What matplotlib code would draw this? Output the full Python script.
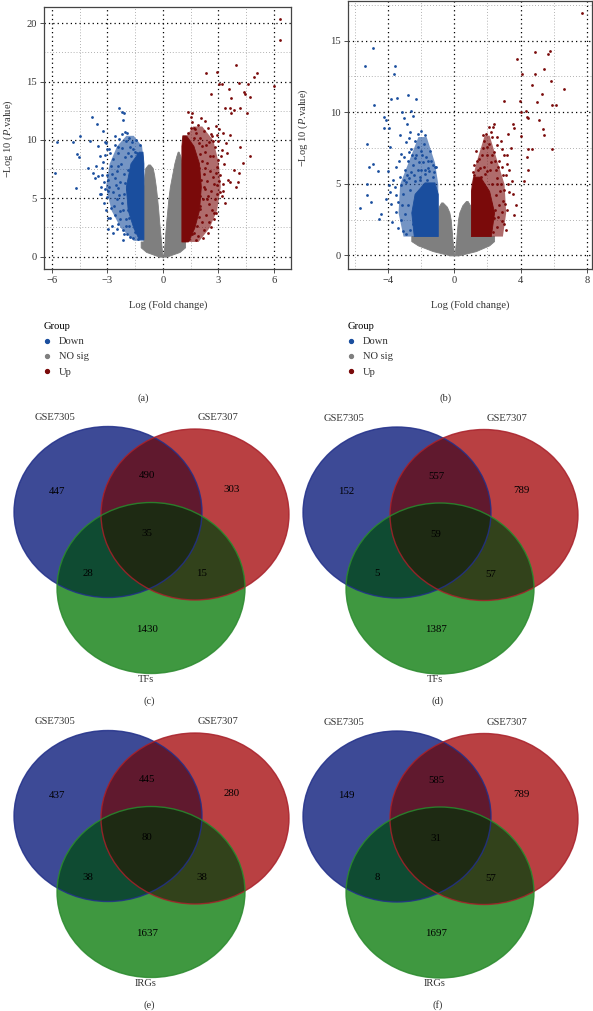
import numpy as np
import matplotlib
matplotlib.use('Agg')
import matplotlib.pyplot as plt
from matplotlib.patches import Ellipse, Polygon
from matplotlib.lines import Line2D

plt.rcParams['font.family'] = ['Liberation Serif', 'DejaVu Serif']
plt.rcParams['mathtext.fontset'] = 'custom'
plt.rcParams['mathtext.rm'] = 'Liberation Serif'
plt.rcParams['mathtext.it'] = 'Liberation Serif:italic'

# ---------------- volcano (a) ----------------
a_gray_left_y = [0, 0.4, 0.8, 1.3, 1.3, 2, 3, 4, 5, 6, 7, 7.6, 7.9]
a_gray_left_out = [-0.2, -0.9, -1.2, -1.2, -1.05, -1.05, -1.05, -1.05, -1.05, -1.05, -1.0, -0.95, -0.8]
a_gray_left_in = [0, -0.04, -0.07, -0.1, -0.1, -0.14, -0.2, -0.25, -0.31, -0.38, -0.47, -0.55, -0.7]
a_gray_right_y = [0, 0.4, 0.8, 1.3, 1.3, 2, 3, 4, 5, 6, 7, 8, 8.6, 9.0]
a_gray_right_out = [0.2, 0.9, 1.2, 1.2, 1.0, 1.0, 1.0, 1.0, 1.0, 1.0, 1.0, 1.0, 0.95, 0.85]
a_gray_right_in = [0, 0.04, 0.07, 0.1, 0.1, 0.13, 0.18, 0.24, 0.3, 0.38, 0.5, 0.62, 0.72, 0.8]
a_down_halo_y = [1.4, 2.5, 4, 6, 8, 9.5, 10.4]
a_down_halo_l = [-1.6, -2.3, -2.8, -3.1, -2.9, -2.5, -2.0]
a_down_halo_r = [-1.05, -1.05, -1.05, -1.05, -1.05, -1.15, -1.6]
a_down_core_y = [1.5, 2.5, 4, 6, 8, 9.0]
a_down_core_l = [-1.3, -1.6, -1.9, -2.0, -1.75, -1.3]
a_down_core_r = [-1.05, -1.05, -1.05, -1.05, -1.05, -1.1]
a_up_halo_y = [1.3, 2.5, 4, 6, 8, 10, 11.2]
a_up_halo_l = [1.0, 1.0, 1.0, 1.0, 1.0, 1.1, 1.6]
a_up_halo_r = [1.9, 2.5, 2.9, 3.1, 3.0, 2.7, 2.1]
a_up_core_y = [1.3, 2.5, 4, 6, 8, 9.5, 10.4]
a_up_core_l = [1.0, 1.0, 1.0, 1.0, 1.0, 1.0, 1.05]
a_up_core_r = [1.35, 1.7, 1.95, 2.05, 1.95, 1.65, 1.25]

a_down = np.array([
    (-5.73, 9.8), (-5.82, 7.15), (-4.86, 9.8), (-4.68, 5.9), (-4.5, 10.3), (-4.65, 8.8),
    (-4.54, 8.5), (-4.07, 7.6), (-3.93, 9.9), (-3.84, 12.0), (-3.75, 7.15), (-3.66, 6.7),
    (-3.57, 11.4), (-3.48, 9.5), (-3.39, 8.6), (-3.33, 5.4), (-3.21, 10.8), (-3.06, 9.7),
    (-2.99, 5.6), (-2.94, 2.4), (-2.85, 3.3), (-2.36, 12.7), (-2.22, 12.4), (-2.09, 12.3),
    (-2.18, 11.7), (-2.04, 10.7), (-2.67, 2.0), (-2.16, 1.4),
    (-3.3, 7.6), (-3.2, 6.4), (-3.1, 8.7), (-3.0, 5.1), (-3.0, 7.0), (-2.9, 9.2), (-2.9, 6.0),
    (-2.8, 4.2), (-2.8, 7.8), (-2.7, 5.5), (-2.7, 8.4), (-2.6, 3.6), (-2.6, 6.7), (-2.6, 9.6),
    (-2.5, 4.9), (-2.5, 7.3), (-2.45, 2.8), (-2.4, 5.9), (-2.4, 8.9), (-2.35, 10.1), (-2.3, 3.9),
    (-2.3, 6.4), (-2.25, 7.9), (-2.2, 4.6), (-2.2, 9.3), (-2.15, 2.3), (-2.1, 5.4), (-2.1, 7.1),
    (-2.05, 8.5), (-2.0, 3.2), (-2.0, 9.9), (-1.95, 1.9), (-1.9, 8.9), (-1.85, 2.6), (-1.8, 9.4),
    (-1.75, 1.7), (-1.7, 8.6), (-1.6, 9.2), (-1.5, 9.0), (-1.4, 8.9), (-1.35, 1.5), (-2.6, 10.3),
    (-2.2, 10.5), (-1.85, 10.2), (-3.4, 5.4), (-3.5, 6.9), (-3.6, 7.8), (-3.2, 4.6), (-2.95, 3.3),
    (-2.75, 2.6), (-3.1, 9.8),
    (-1.25, 9.6), (-1.45, 10.0), (-1.65, 9.8), (-1.9, 7.4), (-1.95, 5.8), (-1.9, 4.0),
    (-1.85, 3.3), (-2.05, 6.3), (-2.15, 4.0), (-2.35, 5.3), (-2.45, 7.8), (-2.55, 6.1),
    (-2.65, 4.3), (-2.75, 7.1), (-2.85, 8.9), (-2.95, 6.6), (-3.05, 4.0), (-3.15, 5.8),
    (-3.25, 8.1), (-2.3, 3.2), (-2.5, 2.4), (-2.0, 2.6), (-1.6, 1.6), (-1.5, 2.1), (-2.1, 1.9),
    (-1.95, 10.6), (-2.45, 9.4), (-3.0, 9.2), (-3.3, 7.0), (-3.35, 6.0),
])
a_up = np.array([
    (6.31, 20.4), (6.31, 18.6), (3.96, 16.4), (5.08, 15.7), (4.9, 15.4), (4.58, 14.8),
    (2.34, 15.7), (2.92, 15.8), (3.01, 14.8), (3.19, 14.8), (4.09, 14.9), (6.02, 14.6),
    (3.55, 14.4), (4.36, 14.1), (4.45, 13.9), (4.72, 13.7), (2.59, 13.9), (3.68, 13.6),
    (3.37, 12.7), (3.6, 12.7), (3.82, 12.6), (4.14, 12.7), (4.54, 12.3), (3.68, 12.3),
    (1.35, 12.4), (1.57, 12.3), (3.01, 10.9), (3.24, 10.6), (3.64, 10.4), (4.18, 9.4),
    (4.72, 8.6), (3.46, 8.9), (3.82, 7.4), (4.09, 7.2), (3.64, 6.4), (4.04, 6.4), (4.32, 8.0),
    (3.96, 6.0), (3.24, 5.6), (3.1, 5.5), (2.74, 3.7), (2.88, 3.7), (2.38, 4.9), (2.02, 4.3),
    (1.87, 2.6), (1.66, 2.0),
    (1.7, 11.0), (1.8, 10.6), (1.9, 11.3), (2.0, 10.2), (2.1, 9.5), (2.1, 8.2), (2.2, 10.8),
    (2.2, 7.1), (2.3, 9.0), (2.3, 5.8), (2.35, 3.6), (2.4, 8.0), (2.4, 6.5), (2.5, 9.8),
    (2.5, 4.5), (2.55, 7.3), (2.6, 10.5), (2.6, 5.6), (2.7, 8.6), (2.7, 6.8), (2.75, 3.2),
    (2.8, 9.4), (2.8, 4.9), (2.9, 7.7), (2.9, 6.1), (3.0, 9.9), (3.0, 8.3), (3.1, 7.0),
    (3.2, 9.1), (3.2, 5.2), (3.3, 7.9), (2.1, 3.0), (2.2, 2.3), (1.9, 1.8), (2.0, 4.1),
    (2.25, 11.6), (2.45, 11.0), (1.5, 12.0), (1.6, 11.5), (2.65, 10.3), (2.95, 10.4),
    (3.4, 9.7), (3.5, 6.6), (3.35, 4.6), (1.4, 1.5), (1.6, 1.9), (2.6, 2.5),
    (1.35, 10.6), (1.5, 11.0), (1.7, 10.2), (1.95, 9.7), (2.0, 8.8), (1.95, 7.6), (2.05, 6.6),
    (2.0, 5.2), (1.95, 3.4), (2.15, 4.9), (2.2, 6.0), (2.3, 7.6), (2.35, 9.6), (2.45, 5.2),
    (2.5, 3.0), (2.55, 8.6), (2.65, 4.0), (2.7, 9.9), (2.75, 6.2), (2.85, 7.2), (2.95, 5.4),
    (3.05, 6.5), (3.15, 8.6), (3.25, 6.2), (2.15, 1.6), (1.8, 1.4), (2.45, 2.0), (1.75, 10.9),
    (2.05, 11.9), (2.85, 11.2),
])

# ---------------- volcano (b) ----------------
b_gray_left_y = [0, 0.3, 0.7, 1.0, 1.35, 1.35, 2, 2.5, 3, 3.4, 3.7]
b_gray_left_out = [-0.25, -1.3, -2.2, -2.6, -2.6, -1.0, -1.0, -1.0, -1.0, -0.95, -0.8]
b_gray_left_in = [0, -0.04, -0.07, -0.11, -0.13, -0.13, -0.18, -0.22, -0.3, -0.45, -0.7]
b_gray_right_y = [0, 0.3, 0.7, 1.0, 1.35, 1.35, 2, 2.5, 3, 3.5, 3.8]
b_gray_right_out = [0.25, 1.3, 2.1, 2.4, 2.4, 1.0, 1.0, 1.0, 1.0, 0.95, 0.8]
b_gray_right_in = [0, 0.04, 0.07, 0.11, 0.13, 0.13, 0.18, 0.22, 0.3, 0.48, 0.7]
b_down_halo_y = [1.35, 3, 5, 6.5, 8.3]
b_down_halo_l = [-3.1, -3.4, -3.3, -2.8, -2.2]
b_down_halo_r = [-1.0, -1.0, -1.0, -1.2, -1.7]
b_down_core_y = [1.35, 3, 4.3, 5.1]
b_down_core_l = [-2.45, -2.6, -2.4, -1.8]
b_down_core_r = [-1.0, -1.0, -1.0, -1.2]
b_up_halo_y = [1.35, 3, 5, 6.5, 8.4]
b_up_halo_l = [1.0, 1.0, 1.0, 1.3, 1.8]
b_up_halo_r = [2.9, 3.1, 3.0, 2.6, 2.1]
b_up_core_y = [1.35, 3, 4.5, 5.5]
b_up_core_l = [1.0, 1.0, 1.0, 1.15]
b_up_core_r = [2.2, 2.4, 2.1, 1.55]

b_down = np.array([
    (-4.93, 14.5), (-5.37, 13.2), (-3.58, 13.2), (-3.66, 12.7), (-2.82, 11.2), (-3.46, 11.0),
    (-3.82, 10.9), (-2.31, 10.9), (-4.83, 10.5), (-2.62, 10.1), (-3.18, 10.0), (-4.27, 9.7),
    (-4.12, 9.45), (-3.02, 9.6), (-2.52, 9.75), (-4.23, 8.9), (-3.92, 8.9), (-2.88, 9.2),
    (-2.01, 8.7), (-1.77, 8.4), (-3.26, 8.4), (-5.27, 7.8), (-3.86, 7.55), (-2.72, 8.2),
    (-5.13, 6.2), (-4.93, 6.4), (-4.63, 5.9), (-5.27, 5.0), (-3.96, 4.95), (-5.27, 4.2),
    (-5.03, 3.7), (-5.67, 3.3), (-4.43, 2.9), (-4.53, 2.55), (-3.78, 2.3), (-4.1, 3.95),
    (-4.02, 5.9), (-1.1, 6.15),
    (-3.6, 4.8), (-3.5, 6.2), (-3.4, 3.7), (-3.3, 5.5), (-3.2, 7.1), (-3.1, 4.3), (-3.0, 6.0),
    (-3.0, 2.9), (-2.9, 7.9), (-2.9, 5.1), (-2.8, 3.5), (-2.8, 6.6), (-2.7, 4.6), (-2.6, 7.4),
    (-2.6, 5.8), (-2.5, 6.3), (-2.4, 8.0), (-2.4, 5.2), (-2.3, 7.0), (-2.2, 6.0), (-2.2, 8.5),
    (-2.1, 5.5), (-2.0, 7.3), (-1.9, 6.5), (-1.8, 5.7), (-1.7, 6.9), (-1.6, 6.1), (-1.5, 5.9),
    (-1.4, 6.6), (-1.3, 5.5), (-2.0, 6.0), (-2.5, 2.2), (-3.2, 2.5), (-3.5, 3.0), (-3.8, 3.6),
    (-3.9, 4.4), (-2.7, 1.8), (-2.9, 1.5), (-3.4, 1.9), (-1.2, 5.8), (-1.15, 6.2),
    (-1.3, 6.3), (-1.6, 6.6), (-1.75, 6.0), (-1.95, 7.0), (-2.15, 6.5), (-2.35, 6.8),
    (-2.55, 7.0), (-2.75, 7.2), (-2.85, 5.6), (-3.05, 5.3), (-3.15, 3.5), (-3.25, 4.9),
    (-3.35, 6.6), (-2.65, 8.6), (-2.2, 7.6), (-1.85, 7.8), (-3.05, 6.9), (-3.55, 4.2),
    (-3.7, 5.3), (-3.1, 1.7), (-2.75, 5.4), (-2.45, 5.6), (-2.05, 5.3), (-1.65, 5.3), (-1.45, 7.3),
])
b_up = np.array([
    (7.69, 16.9), (5.79, 14.3), (5.63, 14.1), (4.87, 14.2), (3.78, 13.7), (5.39, 13.0),
    (4.06, 12.65), (4.87, 12.65), (5.84, 12.2), (4.67, 11.9), (6.6, 11.6), (5.27, 11.3),
    (3.02, 10.8), (3.98, 10.8), (4.99, 10.7), (5.88, 10.5), (6.14, 10.5), (4.35, 10.1),
    (4.02, 10.0), (4.39, 9.7), (4.43, 9.6), (5.13, 9.45), (3.52, 9.2), (5.33, 8.85),
    (3.62, 8.9), (5.43, 8.4), (4.02, 8.35), (3.22, 8.5), (4.47, 7.4), (4.67, 7.4), (5.88, 7.4),
    (4.39, 6.9), (4.47, 6.0), (4.18, 5.2), (3.52, 4.3), (3.72, 3.55), (3.62, 2.8), (2.92, 3.8),
    (2.41, 9.2), (2.33, 9.0),
    (1.1, 5.8), (1.2, 6.3), (1.3, 7.3), (1.4, 6.0), (1.5, 6.7), (1.6, 5.5), (1.7, 7.5),
    (1.8, 6.2), (1.9, 8.5), (2.0, 7.0), (2.0, 5.9), (2.1, 7.8), (2.2, 6.5), (2.3, 8.3),
    (2.3, 5.0), (2.4, 7.2), (2.5, 6.0), (2.5, 4.2), (2.6, 7.7), (2.6, 5.4), (2.7, 3.5),
    (2.7, 6.6), (2.8, 5.0), (2.8, 8.0), (2.9, 6.2), (3.0, 4.6), (3.0, 7.0), (3.1, 5.6),
    (3.2, 3.2), (3.3, 6.0), (3.3, 4.4), (2.2, 3.6), (2.4, 2.6), (2.6, 2.0), (2.9, 2.4),
    (3.1, 1.8), (2.35, 1.6), (1.7, 8.4), (2.1, 9.0), (3.4, 7.5), (3.5, 5.2),
    (1.2, 5.6), (1.35, 6.6), (1.55, 6.1), (1.65, 7.0), (1.85, 5.7), (1.95, 7.6), (2.15, 6.0),
    (2.25, 7.0), (2.45, 6.6), (2.55, 5.0), (2.65, 6.2), (2.75, 4.5), (2.85, 7.4), (2.95, 5.6),
    (3.05, 3.6), (3.15, 6.4), (3.25, 5.0), (2.45, 3.2), (2.65, 2.7), (2.85, 3.0), (3.0, 2.2),
    (1.8, 8.0), (2.2, 8.6), (2.55, 8.3), (3.2, 7.0),
])

# ---------------- Venn counts: onlyA, AB, onlyB, ABC, AC, BC, onlyC ----------------
set_a, set_b = 'GSE7305', 'GSE7307'
venn_c = [447, 490, 303, 35, 28, 15, 1430]
venn_d = [152, 557, 789, 59, 5, 57, 1387]
venn_e = [437, 445, 280, 80, 38, 38, 1637]
venn_f = [149, 585, 789, 31, 8, 57, 1697]
third_names = ['TFs', 'TFs', 'IRGs', 'IRGs']
panel_names = ['(c)', '(d)', '(e)', '(f)']

C_DOWN, C_NS, C_UP = '#1A4E9E', '#7F7F7F', '#7A0A0A'
TXT = '#333333'
FS = 7.6

fig = plt.figure(figsize=(5.93, 10.11), dpi=100)
W, H = 593, 1011


def volcano(px, xlim, ylim, xmaj, xmin, ymaj, ymin, gl, gr, dhalo, dcore, uhalo, ucore, down, up):
    l, r, t, b = px
    ax = fig.add_axes([l / W, 1 - b / H, (r - l) / W, (b - t) / H])
    ax.set_xlim(*xlim)
    ax.set_ylim(*ylim)
    ax.set_xticks(xmaj)
    ax.set_yticks(ymaj)
    ax.set_xticks(xmin, minor=True)
    ax.set_yticks(ymin, minor=True)
    ax.set_axisbelow(True)
    ax.grid(which='major', ls=(0, (1, 2.5)), color='black', lw=0.9)
    ax.grid(which='minor', ls=(0, (1, 2.5)), color='#999999', lw=0.6)
    ax.tick_params(which='major', length=3, width=0.6, color=TXT, labelsize=FS,
                   labelcolor=TXT, pad=2)
    ax.tick_params(which='minor', length=0)
    for s in ax.spines.values():
        s.set_color('#444444')
        s.set_linewidth(0.9)
    # NO sig cloud
    ax.fill_betweenx(gl[0], gl[1], gl[2], color=C_NS, lw=0.6, ec=C_NS)
    ax.fill_betweenx(gr[0], gr[1], gr[2], color=C_NS, lw=0.6, ec=C_NS)
    # sparser halo, then the dense core of Down / Up
    ax.fill_betweenx(dhalo[0], dhalo[1], dhalo[2], color=C_DOWN, lw=0, alpha=0.6)
    ax.fill_betweenx(uhalo[0], uhalo[1], uhalo[2], color=C_UP, lw=0, alpha=0.6)
    ax.fill_betweenx(dcore[0], dcore[1], dcore[2], color=C_DOWN, lw=0.6, ec=C_DOWN)
    ax.fill_betweenx(ucore[0], ucore[1], ucore[2], color=C_UP, lw=0.6, ec=C_UP)
    ax.scatter(down[:, 0], down[:, 1], s=4, color=C_DOWN, lw=0)
    ax.scatter(up[:, 0], up[:, 1], s=4, color=C_UP, lw=0)
    return ax


volcano((44, 291, 7, 269), (-6.42, 6.92), (-1.06, 21.4),
        [-6, -3, 0, 3, 6], [-4.5, -1.5, 1.5, 4.5],
        [0, 5, 10, 15, 20], [2.5, 7.5, 12.5, 17.5],
        (a_gray_left_y, a_gray_left_out, a_gray_left_in),
        (a_gray_right_y, a_gray_right_in, a_gray_right_out),
        (a_down_halo_y, a_down_halo_l, a_down_halo_r),
        (a_down_core_y, a_down_core_l, a_down_core_r),
        (a_up_halo_y, a_up_halo_l, a_up_halo_r),
        (a_up_core_y, a_up_core_l, a_up_core_r), a_down, a_up)
volcano((348, 591.5, 1, 269), (-6.42, 8.28), (-0.95, 17.77),
        [-4, 0, 4, 8], [-6, -2, 2, 6],
        [0, 5, 10, 15], [2.5, 7.5, 12.5, 17.5],
        (b_gray_left_y, b_gray_left_out, b_gray_left_in),
        (b_gray_right_y, b_gray_right_in, b_gray_right_out),
        (b_down_halo_y, b_down_halo_l, b_down_halo_r),
        (b_down_core_y, b_down_core_l, b_down_core_r),
        (b_up_halo_y, b_up_halo_l, b_up_halo_r),
        (b_up_core_y, b_up_core_l, b_up_core_r), b_down, b_up)

# overlay in pixel coordinates for labels and Venn diagrams
ov = fig.add_axes([0, 0, 1, 1], zorder=-1)
ov.set_xlim(0, W)
ov.set_ylim(H, 0)
ov.axis('off')

ylab = r'$-$Log 10 ($P$.value)'
ov.text(8, 139, ylab, rotation=90, ha='center', va='center', fontsize=FS, color=TXT)
ov.text(303, 128, ylab, rotation=90, ha='center', va='center', fontsize=FS, color=TXT)
ov.text(168, 305, 'Log (Fold change)', ha='center', va='center', fontsize=FS, color=TXT)
ov.text(470, 305, 'Log (Fold change)', ha='center', va='center', fontsize=FS, color=TXT)
ov.text(143, 398, '(a)', ha='center', va='center', fontsize=FS, color=TXT)
ov.text(446, 398, '(b)', ha='center', va='center', fontsize=FS, color=TXT)

handles = [Line2D([], [], marker='o', ls='', ms=2.8, color=c) for c in (C_DOWN, C_NS, C_UP)]
for x0 in (44, 348):
    fig.legend(handles, ['Down', 'NO sig', 'Up'], title='Group', loc='upper left',
               bbox_to_anchor=(x0 / W, 1 - 322 / H), frameon=False, fontsize=FS,
               title_fontsize=FS, alignment='left', labelspacing=0.55,
               handlelength=0.5, handletextpad=0.9, borderpad=0, borderaxespad=0,
               labelcolor=TXT)


def ellipse_pts(cx, cy, w, h, n=180):
    t = np.linspace(0, 2 * np.pi, n, endpoint=False)
    return np.column_stack([cx + w / 2 * np.cos(t), cy + h / 2 * np.sin(t)])


def clip_convex(subject, clip):
    def inside(p, a, b):
        return (b[0] - a[0]) * (p[1] - a[1]) - (b[1] - a[1]) * (p[0] - a[0]) >= 0

    def cross_pt(s, e, a, b):
        d1 = e - s
        d2 = b - a
        den = d1[0] * d2[1] - d1[1] * d2[0]
        u = ((a[0] - s[0]) * d2[1] - (a[1] - s[1]) * d2[0]) / den
        return s + u * d1

    out = list(subject)
    for i in range(len(clip)):
        a, b = clip[i - 1], clip[i]
        inp, out = out, []
        if not inp:
            break
        s = inp[-1]
        for e in inp:
            if inside(e, a, b):
                if not inside(s, a, b):
                    out.append(cross_pt(s, e, a, b))
                out.append(e)
            elif inside(s, a, b):
                out.append(cross_pt(s, e, a, b))
            s = e
    return np.array(out)


fill_a, fill_b, fill_c = '#3D4A96', '#B94042', '#3F9840'
fill_ab, fill_ac, fill_bc, fill_abc = '#60192E', '#0F4B32', '#32421B', '#1E2A13'
edge_a, edge_b, edge_c = '#22308A', '#A8202A', '#2B8A2E'

origins = [(0, 0), (289, 0.5), (0, 304), (289, 304.5)]
counts = [venn_c, venn_d, venn_e, venn_f]
EW, EH = 188, 171
for (ox, oy), cnt, nm, pn in zip(origins, counts, third_names, panel_names):
    ca = (108 + ox, 512 + oy)
    cb = (195 + ox, 514.5 + oy)
    cc = (151 + ox, 588 + oy)
    pa, pb, pc = (ellipse_pts(*c, EW, EH) for c in (ca, cb, cc))
    pab = clip_convex(pa, pb)
    pac = clip_convex(pa, pc)
    pbc = clip_convex(pb, pc)
    pabc = clip_convex(pab, pc)
    for poly, col in ((pa, fill_a), (pb, fill_b), (pc, fill_c), (pab, fill_ab),
                      (pac, fill_ac), (pbc, fill_bc), (pabc, fill_abc)):
        ov.add_patch(Polygon(poly, closed=True, fc=col, ec='none', zorder=1))
    for c, ec in ((ca, edge_a), (cb, edge_b), (cc, edge_c)):
        ov.add_patch(Ellipse(c, EW, EH, fill=False, ec=ec, lw=1.0, alpha=0.85, zorder=2))
    spots = [(57, 491), (147, 476), (232, 490), (147, 534), (88, 573), (202, 574), (147, 629)]
    for (sx, sy), v in zip(spots, cnt):
        ov.text(sx + ox, sy + oy, str(v), ha='center', va='center', fontsize=7.8,
                color='black', zorder=5)
    ov.text(55 + ox, 418 + oy, set_a, ha='center', va='center', fontsize=FS, color=TXT)
    ov.text(218 + ox, 418 + oy, set_b, ha='center', va='center', fontsize=FS, color=TXT)
    ov.text(146 + ox, 679 + oy, nm, ha='center', va='center', fontsize=FS, color=TXT)
    ov.text(149 + ox, 701 + oy, pn, ha='center', va='center', fontsize=FS, color=TXT)

fig.savefig('out.png', dpi=100)
